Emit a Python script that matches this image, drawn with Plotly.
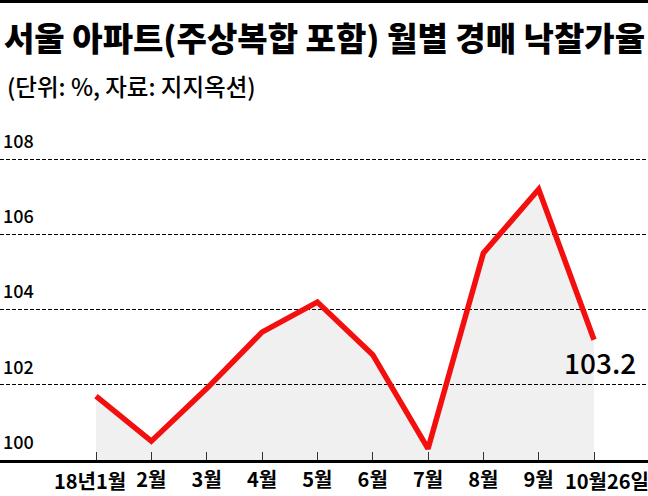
import plotly.graph_objects as go

# ---- data ----
months = ["18년1월", "2월", "3월", "4월", "5월", "6월", "7월", "8월", "9월", "10월26일"]
rates = [101.7, 100.5, 101.9, 103.4, 104.2, 102.8, 100.3, 105.5, 107.2, 103.2]
y_ticks = [100, 102, 104, 106, 108]
title_text = "서울 아파트(주상복합 포함) 월별 경매 낙찰가율"
subtitle_text = "(단위: %, 자료: 지지옥션)"
last_label = "103.2"

FONT = "Noto Sans CJK KR"
W, H = 648, 496
T, B = 120, 36
plot_h = H - T - B

xs = list(range(len(months)))

fig = go.Figure()
fig.add_trace(go.Scatter(
    x=xs, y=rates, mode="lines",
    line=dict(color="#f40f0f", width=5.5),
    fill="tozeroy", fillcolor="rgba(0,0,0,0.06)",
    hoverinfo="skip", showlegend=False,
))

inner_text = [""] + months[1:-1] + [""]

fig.update_layout(
    width=W, height=H,
    margin=dict(l=0, r=0, t=T, b=B),
    paper_bgcolor="white", plot_bgcolor="white",
    font=dict(family=FONT, color="black"),
    xaxis=dict(
        range=[-1.735, 9.976],
        tickmode="array", tickvals=xs, ticktext=inner_text,
        ticks="inside", ticklen=8, tickwidth=1, tickcolor="#333",
        showline=True, linecolor="black", linewidth=2.5,
        showgrid=False, zeroline=False,
        tickfont=dict(family=FONT, size=20, color="black", weight="bold"),
        fixedrange=True,
    ),
    yaxis=dict(
        range=[100, 100 + plot_h / 37.6],
        tickmode="array", tickvals=y_ticks,
        ticklabelposition="inside top", ticklabelshift=-5,
        ticklabeloverflow="allow",
        ticks="", showline=False, zeroline=False,
        showgrid=True, gridcolor="black", griddash="4px,2px", gridwidth=1,
        tickfont=dict(family=FONT, size=18, color="black", weight=500),
        fixedrange=True,
    ),
)

ann = []
# end tick labels, slightly offset like in the original
ann.append(dict(x=xs[0], y=0, xref="x", yref="paper", text=months[0],
                showarrow=False, xshift=-6, yanchor="top", yshift=-4,
                font=dict(family=FONT, size=20, color="black", weight="bold")))
ann.append(dict(x=xs[-1], y=0, xref="x", yref="paper", text=months[-1],
                showarrow=False, xshift=13, yanchor="top", yshift=-4,
                font=dict(family=FONT, size=20, color="black", weight="bold")))
# value label at the last point
ann.append(dict(x=xs[-1], y=rates[-1], xref="x", yref="y", text=last_label,
                showarrow=False, xshift=6, yshift=-22, yanchor="middle",
                font=dict(family=FONT, size=28, color="black", weight=500)))
# title and subtitle
ann.append(dict(x=0, y=1 + (T - 37) / plot_h, xref="paper", yref="paper",
                text=title_text, showarrow=False, xanchor="left", yanchor="middle",
                xshift=2,
                font=dict(family=FONT, size=33, color="black", weight=900)))
ann.append(dict(x=0, y=1 + (T - 86) / plot_h, xref="paper", yref="paper",
                text=subtitle_text, showarrow=False, xanchor="left", yanchor="middle",
                xshift=5,
                font=dict(family=FONT, size=23.5, color="black", weight=500)))
fig.update_layout(annotations=ann)

# thin black bar at very top
fig.add_shape(type="rect", xref="paper", yref="paper",
              x0=0, x1=1, y0=1 + (T - 3) / plot_h, y1=1 + T / plot_h,
              fillcolor="black", line=dict(width=0))

fig.write_html("out.html",
               config={"displayModeBar": False},
               post_script="document.body.style.margin='0';document.body.style.overflow='hidden';")
